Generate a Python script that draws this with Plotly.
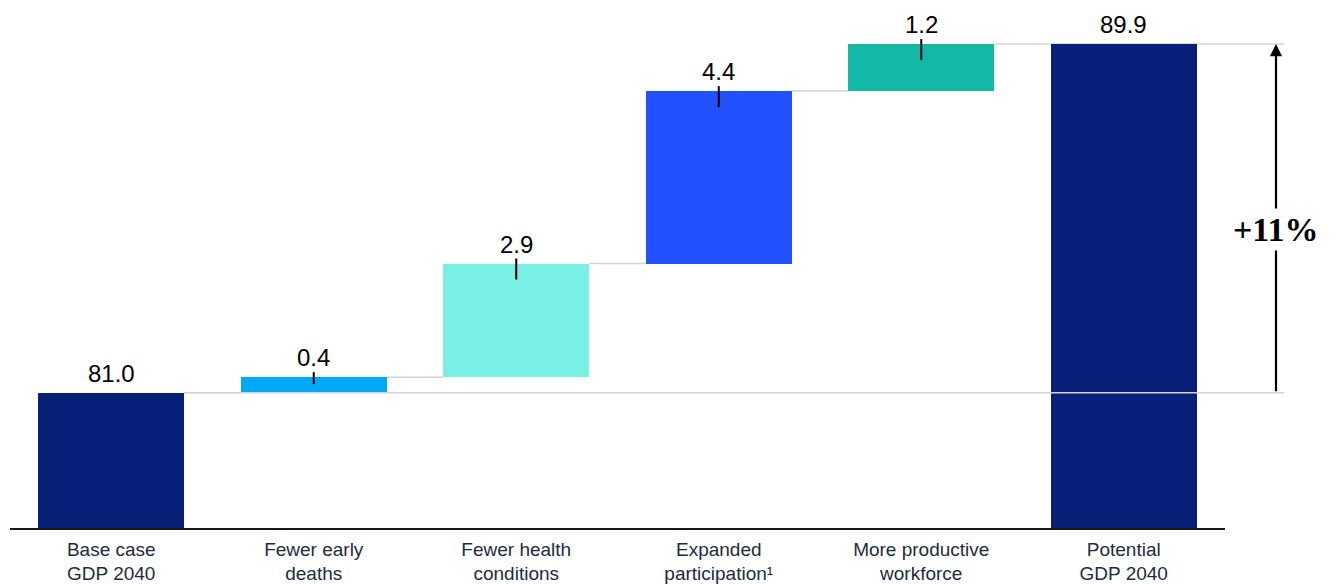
import plotly.graph_objects as go

# GDP 2040 bridge: base case, health-driven uplifts, potential total
categories = [
    "Base case<br>GDP 2040",
    "Fewer early<br>deaths",
    "Fewer health<br>conditions",
    "Expanded<br>participation¹",
    "More productive<br>workforce",
    "Potential<br>GDP 2040",
]
base_value = 81.0
uplifts = [0.4, 2.9, 4.4, 1.2]
total_value = 89.9
value_labels = ["81.0", "0.4", "2.9", "4.4", "1.2", "89.9"]
growth_label = "+11%"

colors = ["#081f78", "#00a9f4", "#78f0e6", "#2251ff", "#14b8a9", "#081f78"]

Y_MIN, Y_MAX = 77.55, 91.0
BAR_W = 0.72
W, H = 1336, 585
M_L, M_R, M_T, M_B = 10, 111, 1, 57
plot_h = H - M_T - M_B
px_per_unit = plot_h / (Y_MAX - Y_MIN)

# floating bar geometry
bases, heights = [Y_MIN], [base_value - Y_MIN]
running = base_value
for d in uplifts:
    bases.append(running)
    heights.append(d)
    running += d
bases.append(Y_MIN)
heights.append(total_value - Y_MIN)
tops = [b + h for b, h in zip(bases, heights)]

x_idx = list(range(len(categories)))

fig = go.Figure(go.Bar(
    x=x_idx, y=heights, base=bases, width=BAR_W,
    marker=dict(color=colors, line=dict(width=0)),
    hoverinfo="skip",
))

def to_paper(xv):
    return (xv + 0.5) / len(categories)

shapes = []
annotations = []
grey = "#d4d4d4"

# connectors between consecutive bars
for i in range(1, len(categories) - 1):
    shapes.append(dict(type="line", xref="paper", yref="y",
                       x0=to_paper(i - 1 + BAR_W / 2), x1=to_paper(i - BAR_W / 2),
                       y0=bases[i], y1=bases[i], line=dict(color=grey, width=1.5),
                       layer="below"))

# reference lines at base and total level, extending to the growth arrow
right_end = 1.0 + (1284 - (W - M_R)) / (W - M_L - M_R)
shapes.append(dict(type="line", xref="paper", yref="y",
                   x0=to_paper(0 + BAR_W / 2), x1=right_end,
                   y0=base_value, y1=base_value, line=dict(color=grey, width=1.5),
                   layer="above"))
shapes.append(dict(type="line", xref="paper", yref="y",
                   x0=to_paper(4 + BAR_W / 2), x1=right_end,
                   y0=total_value, y1=total_value, line=dict(color=grey, width=1.5),
                   layer="below"))

# value labels, with a short marker line on the uplift bars
for i, (top, lab) in enumerate(zip(tops, value_labels)):
    annotations.append(dict(x=i, y=top, xref="x", yref="y", text=lab,
                            showarrow=False, yanchor="bottom", yshift=4,
                            font=dict(size=24, color="#000000",
                                      family="Liberation Sans, Arial, sans-serif")))
    if 0 < i < len(categories) - 1:
        depth = min(16, heights[i] * px_per_unit * 0.45)
        shapes.append(dict(type="line", xref="x", yref="y", ysizemode="pixel",
                           yanchor=top, x0=i, x1=i, y0=5, y1=-depth,
                           line=dict(color="#000000", width=2), layer="above"))

# growth arrow from base level to total level
arrow_x = 1.0 + (1276 - (W - M_R)) / (W - M_L - M_R)
annotations.append(dict(x=arrow_x, y=total_value, xref="paper", yref="y",
                        ax=0, ay=base_value, axref="pixel", ayref="y",
                        showarrow=True, arrowhead=2, arrowsize=1.1, arrowwidth=2.2,
                        arrowcolor="#000000", text=""))
annotations.append(dict(x=arrow_x, y=85.18, xref="paper", yref="y",
                        xanchor="center", yanchor="middle",
                        text="<b>" + growth_label + "</b>", showarrow=False,
                        bgcolor="#ffffff", borderpad=2,
                        font=dict(size=34, color="#000000",
                                  family="Liberation Serif, Times New Roman, serif")))

fig.update_layout(
    width=W, height=H,
    margin=dict(l=M_L, r=M_R, t=M_T, b=M_B, autoexpand=False),
    paper_bgcolor="#ffffff", plot_bgcolor="#ffffff",
    showlegend=False, bargap=0,
    shapes=shapes, annotations=annotations,
    xaxis=dict(range=[-0.5, len(categories) - 0.5], tickmode="array",
               tickvals=x_idx, ticktext=categories, showgrid=False, zeroline=False,
               showline=True, linecolor="#1a1a1a", linewidth=1.5, ticks="",
               ticklabelstandoff=3, automargin=False,
               tickfont=dict(size=19, color="#1e2c3b",
                             family="Liberation Sans, Arial, sans-serif"),
               fixedrange=True),
    yaxis=dict(range=[Y_MIN, Y_MAX], visible=False, showgrid=False,
               zeroline=False, fixedrange=True, automargin=False),
)

fig.write_html("out.html", config={"displayModeBar": False})
